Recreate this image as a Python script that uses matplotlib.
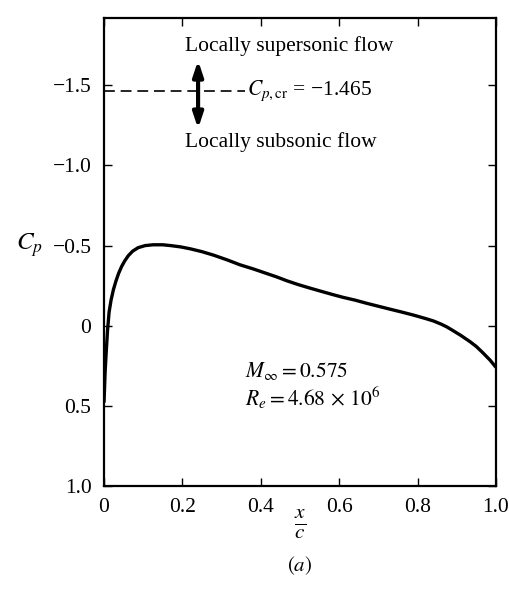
import matplotlib
matplotlib.use("Agg")
import matplotlib.pyplot as plt
import numpy as np

plt.rcParams['font.family'] = ['Liberation Serif', 'DejaVu Serif']
plt.rcParams['mathtext.fontset'] = 'stix'

# Pressure coefficient distribution
x_c = [0.0, 0.0015, 0.003, 0.006, 0.009, 0.013, 0.018, 0.024, 0.03, 0.037,
       0.045, 0.053, 0.062, 0.073, 0.087, 0.105, 0.125, 0.15, 0.17, 0.195,
       0.22, 0.25, 0.28, 0.315, 0.347, 0.38, 0.41, 0.44, 0.467, 0.495, 0.525,
       0.555, 0.584, 0.61, 0.64, 0.67, 0.704, 0.73, 0.76, 0.79, 0.82, 0.84,
       0.86, 0.875, 0.89, 0.91, 0.934, 0.95, 0.967, 0.985, 1.0]
cp = [0.48, 0.38, 0.28, 0.15, 0.03, -0.085, -0.16, -0.225, -0.275, -0.325,
      -0.37, -0.405, -0.437, -0.465, -0.487, -0.50, -0.505, -0.505, -0.50, -0.492,
      -0.48, -0.462, -0.44, -0.41, -0.38, -0.355, -0.33, -0.305, -0.28, -0.257, -0.235,
      -0.214, -0.194, -0.177, -0.16, -0.14, -0.119, -0.103, -0.085, -0.066, -0.045, -0.03,
      -0.01, 0.008, 0.03, 0.06, 0.10, 0.13, 0.17, 0.215, 0.26]

cp_cr = -1.465
x_ticks = [0, 0.2, 0.4, 0.6, 0.8, 1.0]
x_tick_labels = ['0', '0.2', '0.4', '0.6', '0.8', '1.0']
y_ticks = [-1.5, -1.0, -0.5, 0, 0.5, 1.0]
y_tick_labels = ['\u22121.5', '\u22121.0', '\u22120.5', '0', '0.5', '1.0']

fig = plt.figure(figsize=(5.1, 5.9), dpi=100)
ax = fig.add_axes([104/510, 1-486/590, 392/510, 468/590])

ax.plot(x_c, cp, color='black', lw=2.4, solid_capstyle='butt', solid_joinstyle='round')
ax.plot([0, 0.36], [cp_cr, cp_cr], color='black', lw=1.2, dashes=(6.5, 3.5))
ax.text(0.365, cp_cr, r'$C_{p,\mathrm{cr}}$' + ' = \u22121.465',
        fontsize=15.5, va='center', ha='left')

ax.annotate('', xy=(0.24, -1.655), xytext=(0.24, -1.23),
            arrowprops=dict(arrowstyle='<|-|>,head_length=0.9,head_width=0.3',
                            color='black', lw=3, shrinkA=0, shrinkB=0))
ax.text(0.207, -1.745, 'Locally supersonic flow', fontsize=15.5, ha='left', va='center')
ax.text(0.207, -1.145, 'Locally subsonic flow', fontsize=15.5, ha='left', va='center')

ax.text(0.36, 0.28, r'$M_\infty = 0.575$', fontsize=15.5, ha='left', va='center')
ax.text(0.36, 0.45, r'$R_e = 4.68\, \times\, 10^6$', fontsize=15.5, ha='left', va='center')

ax.set_xlim(0, 1.0)
ax.set_ylim(1.0, -1.92)
ax.set_xticks(x_ticks)
ax.set_xticklabels(x_tick_labels)
ax.set_yticks(y_ticks)
ax.set_yticklabels(y_tick_labels)
ax.tick_params(direction='in', length=6, width=1.0, labelsize=15.5, pad=9,
               top=True, right=True, colors='black')
for s in ax.spines.values():
    s.set_linewidth(1.6)

ax.set_ylabel(r'$C_p$', fontsize=18, rotation=0, va='center', ha='center')
ax.yaxis.set_label_coords(-0.19, (1.0 - (-0.5)) / (1.0 + 1.92))
fig.text(300/510, 1-524/590, r'$\frac{x}{c}$', fontsize=22, ha='center', va='center')
fig.text(300/510, 1-566/590, r'$(a)$', fontsize=15, ha='center', va='center')

fig.savefig('out.png', dpi=100)
